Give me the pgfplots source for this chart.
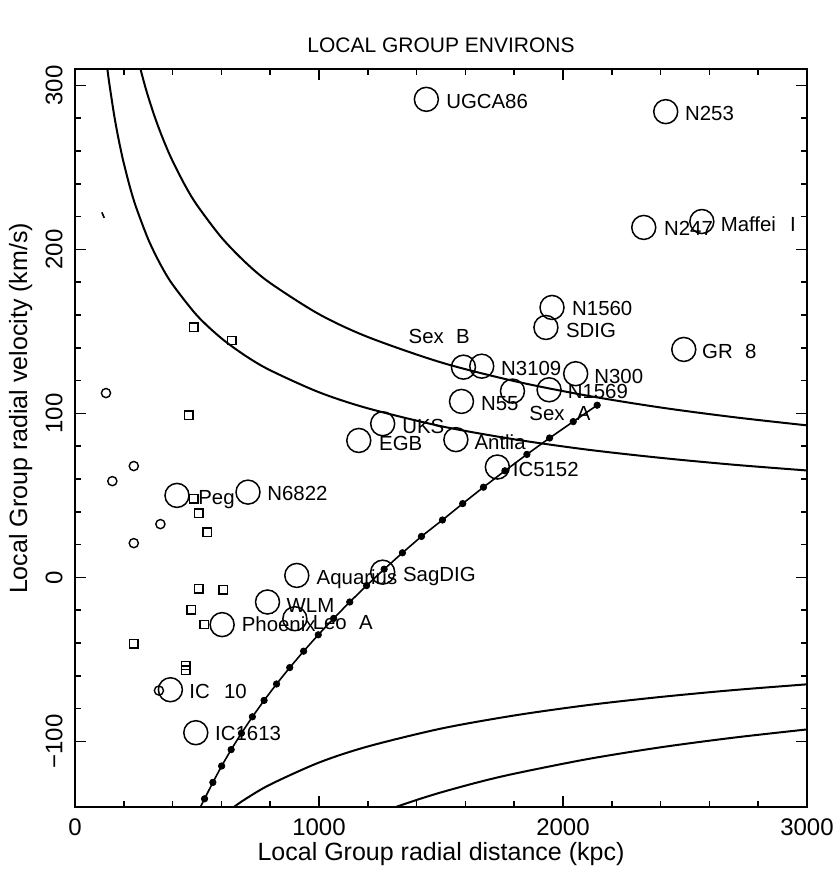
\documentclass[border=0pt]{standalone}
\usepackage{fontspec}
\setmainfont{Liberation Sans}
\usepackage{pgfplots}
\pgfplotsset{compat=1.18}
\usetikzlibrary{calc}
\tikzset{lab/.style={anchor=base west, inner sep=0pt, font=\fontsize{10.2}{12}\selectfont}}

\begin{document}
\begin{tikzpicture}
\begin{axis}[
    name=ax,
    scale only axis,
    width=366pt,
    height=369pt,
    xmin=0, xmax=3000,
    ymin=-140, ymax=310,
    axis line style={line width=1pt},
    tick style={black, line width=0.8pt},
    tick align=inside,
    major tick length=5.3pt,
    minor tick length=2.8pt,
    xtick={0,1000,2000,3000},
    xticklabels={0,1000,2000,3000},
    minor x tick num=4,
    ytick={-100,0,100,200,300},
    yticklabels={−100,0,100,200,300},
    minor y tick num=4,
    xticklabel style={font=\fontsize{12}{14}\selectfont, inner sep=0pt, yshift=-5.5pt},
    yticklabel style={font=\fontsize{12}{14}\selectfont, inner sep=0pt, xshift=-6pt, rotate=90, anchor=south},
    clip=false,
]
% limiting curves
\addplot[black, line width=1pt, smooth] coordinates {
    (133,309.6) (140,301.8) (160,282.3) (175,269.9) (190,259.1) (200,252.5)
    (225,238.1) (250,225.9) (300,206.2) (350,190.9) (400,178.6) (500,159.7)
    (600,145.8) (700,135.0) (800,126.3) (1000,112.9) (1200,103.1) (1500,92.2)
    (1800,84.2) (2100,77.9) (2400,72.9) (2700,68.7) (3000,65.2)
};
\addplot[black, line width=1pt, smooth] coordinates {
    (269,309.6) (285,300.7) (300,293.1) (325,281.6) (350,271.4) (375,262.2)
    (400,253.9) (450,239.3) (500,227.0) (600,207.3) (700,191.9) (800,179.5)
    (1000,160.5) (1200,146.6) (1500,131.1) (1800,119.7) (2100,110.8)
    (2400,103.6) (2700,97.7) (3000,92.7)
};
\addplot[black, line width=1pt, smooth] coordinates {
    (651,-140.0) (700,-135.0) (800,-126.3) (1000,-112.9) (1200,-103.1)
    (1500,-92.2) (1800,-84.2) (2100,-77.9) (2400,-72.9) (2700,-68.7) (3000,-65.2)
};
\addplot[black, line width=1pt, smooth] coordinates {
    (1315,-140.0) (1400,-135.7) (1500,-131.1) (1650,-125.0) (1800,-119.7)
    (2100,-110.8) (2400,-103.6) (2700,-97.7) (3000,-92.7)
};
% dotted track
\addplot[black, line width=0.8pt] coordinates {
    (514,-140) (531,-135) (565,-125) (601,-115) (640,-105) (682,-95) (727,-85)
    (775,-75) (826,-65) (880,-55) (937,-45) (997,-35) (1060,-25) (1126,-15)
    (1195,-5) (1267,5) (1342,15) (1420,25) (1506,35) (1589,45) (1674,55)
    (1762,65) (1852,75) (1945,85) (2042,95) (2140,105)
};
\addplot[black, only marks, mark=*, mark size=1.6pt] coordinates {
    (531,-135) (565,-125) (601,-115) (640,-105) (682,-95) (727,-85)
    (775,-75) (826,-65) (880,-55) (937,-45) (997,-35) (1060,-25) (1126,-15)
    (1195,-5) (1267,5) (1342,15) (1420,25) (1506,35) (1589,45) (1674,55)
    (1762,65) (1852,75) (1945,85) (2042,95) (2140,105)
};
% stray stroke
\addplot[black, line width=0.8pt] coordinates {(110,222.6) (120,219.2)};
% named galaxies
\addplot[black, only marks, mark=o, mark size=6pt, mark options={line width=0.75pt}] coordinates {
    (1440,291.5) (2421,284) (2331,213.4) (2569,217) (1955,164.6) (1930,152.4)
    (2495,139) (1592,128.2) (1667,128.8) (2052,124.2) (1943,114.4) (1793,113.6)
    (1584,107.3) (1261,93.7) (1163,83.5) (1561,84) (1731,67.3) (418,50)
    (709,52) (909,1.2) (1261,3.2) (789,-15) (901,-25.2) (603,-28.8) (391,-68.5)
    (495,-94.7)
};
% small circles
\addplot[black, only marks, mark=o, mark size=2.3pt, mark options={line width=0.7pt}] coordinates {
    (127,112.4) (241,67.9) (153,58.7) (350,32.5) (241,20.9) (344,-69)
};
% squares
\addplot[black, only marks, mark=square, mark size=2.1pt, mark options={line width=0.7pt}] coordinates {
    (487,152.6) (643,144.5) (466,98.8) (487,48) (508,39.2) (541,27.6)
    (508,-6.9) (608,-7.5) (477,-19.7) (529,-28.7) (241,-40.4) (454,-53.7) (454,-56.7)
};
\node[lab] at (axis cs:1520,286.2) {UGCA86};
\node[lab] at (axis cs:2499,278.5) {N253};
\node[lab] at (axis cs:2413,208.5) {N247};
\node[lab] at (axis cs:2645,210.8) {Maffei\hspace{0.7em}I};
\node[lab] at (axis cs:2036,159.6) {N1560};
\node[lab] at (axis cs:2011,146.3) {SDIG};
\node[lab] at (axis cs:1366,142.7) {Sex\hspace{0.6em}B};
\node[lab] at (axis cs:2569,133.7) {GR\hspace{0.6em}8};
\node[lab] at (axis cs:1745,123.0) {N3109};
\node[lab] at (axis cs:2127,118.5) {N300};
\node[lab] at (axis cs:2018,109.1) {N1569};
\node[lab] at (axis cs:1663,101.6) {N55};
\node[lab] at (axis cs:1861,95.9) {Sex\hspace{0.6em}A};
\node[lab] at (axis cs:1340,87.8) {UKS};
\node[lab] at (axis cs:1245,77.6) {EGB};
\node[lab] at (axis cs:1636,78.2) {Antlia};
\node[lab] at (axis cs:1793,61.4) {IC5152};
\node[lab] at (axis cs:504,44.7) {Peg};
\node[lab] at (axis cs:787,46.8) {N6822};
\node[lab] at (axis cs:989,-4.1) {Aquarius};
\node[lab] at (axis cs:1343,-2.4) {SagDIG};
\node[lab] at (axis cs:866,-21.3) {WLM};
\node[lab] at (axis cs:682,-33.1) {Phoenix};
\node[lab] at (axis cs:973,-31.5) {Leo\hspace{0.6em}A};
\node[lab] at (axis cs:467,-73.6) {IC\hspace{0.7em}10};
\node[lab] at (axis cs:573,-99.6) {IC1613};
% titles
\node[anchor=base, inner sep=0pt, font=\fontsize{10.5}{12}\selectfont] at (axis cs:1500,320) {LOCAL GROUP ENVIRONS};
\node[anchor=base, inner sep=0pt, font=\fontsize{12.5}{14}\selectfont] at (axis cs:1500,-172.5) {Local Group radial distance (kpc)};
\node[anchor=base, inner sep=0pt, rotate=90, font=\fontsize{12.5}{14}\selectfont] at (axis cs:-196,103) {Local Group radial velocity (km/s)};
\end{axis}
\pgfresetboundingbox
\useasboundingbox ($(ax.south west)+(-37.5pt,-40.5pt)$) rectangle ($(ax.north east)+(15pt,34.5pt)$);
\end{tikzpicture}
\end{document}
